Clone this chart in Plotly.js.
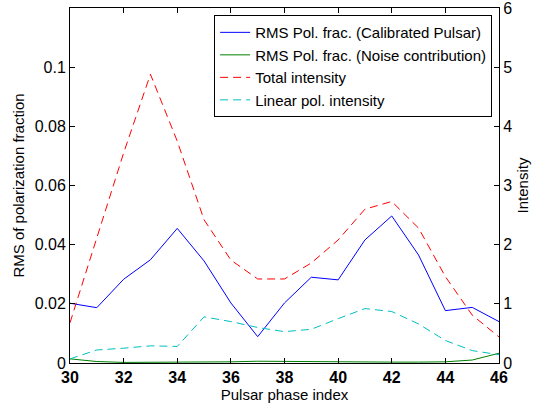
<!DOCTYPE html>
<html>
<head>
<meta charset="utf-8">
<script src="https://cdn.plot.ly/plotly-3.0.1.min.js"></script>
<style>html,body{margin:0;padding:0;background:#fff;}#plot{width:535px;height:406px;}</style>
</head>
<body>
<div id="plot"></div>
<script>
var phase = [30,31,32,33,34,35,36,37,38,39,40,41,42,43,44,45,46];
var rmsCal = [0.0202,0.0187,0.0283,0.0349,0.0455,0.0345,0.0203,0.0089,0.0203,0.0290,0.0281,0.0416,0.0497,0.0365,0.0177,0.0188,0.0140];
var rmsNoise = [0.0014,0.0005,0.0002,0.0002,0.0002,0.0003,0.0004,0.0006,0.0005,0.0004,0.0003,0.0003,0.0003,0.0003,0.0004,0.0010,0.0033];
var totalI = [0.68,2.10,3.55,4.88,3.75,2.42,1.74,1.42,1.42,1.69,2.08,2.60,2.73,2.28,1.46,0.81,0.44];
var linI = [0.07,0.22,0.25,0.29,0.28,0.78,0.70,0.60,0.53,0.57,0.75,0.92,0.87,0.66,0.38,0.21,0.14];
var names = ["RMS Pol. frac. (Calibrated Pulsar)","RMS Pol. frac. (Noise contribution)","Total intensity","Linear pol. intensity"];
var xTicks = [30,32,34,36,38,40,42,44,46];
var yTicks = [0,0.02,0.04,0.06,0.08,0.1];
var y2Ticks = [0,1,2,3,4,5,6];

var traces = [
  {x: phase, y: rmsCal, name: names[0], mode: "lines", line: {color: "#0000ff", width: 1}, yaxis: "y"},
  {x: phase, y: rmsNoise, name: names[1], mode: "lines", line: {color: "#008000", width: 1}, yaxis: "y"},
  {x: phase, y: totalI, name: names[2], mode: "lines", line: {color: "#ff0000", width: 1, dash: "8px,5px"}, yaxis: "y2"},
  {x: phase, y: linI, name: names[3], mode: "lines", line: {color: "#00bfbf", width: 1, dash: "8px,5px"}, yaxis: "y2"}
];

var fam = "Liberation Sans, Arial, sans-serif";
var layout = {
  width: 535, height: 406,
  margin: {l: 70, r: 36, t: 8, b: 43},
  paper_bgcolor: "#fff", plot_bgcolor: "#fff",
  font: {family: fam, size: 15, color: "#000"},
  showlegend: true,
  legend: {x: 0.984, y: 0.98, xanchor: "right", yanchor: "top", bgcolor: "#fff", bordercolor: "#000", borderwidth: 1, font: {family: fam, size: 15}, tracegroupgap: 0},
  xaxis: {range: [30, 46], tickvals: xTicks, ticktext: xTicks.map(function(v){return "<b>" + v + "</b>";}),
    ticks: "inside", ticklen: 5, tickcolor: "#000", showline: true, linecolor: "#000", linewidth: 1, mirror: "ticks", showgrid: false, zeroline: false,
    tickfont: {family: fam, size: 16}, title: {text: "Pulsar phase index", font: {family: fam, size: 15}, standoff: 2}},
  yaxis: {range: [0, 0.12], tickvals: yTicks, ticktext: yTicks.map(String),
    ticks: "inside", ticklen: 5, tickcolor: "#000", showline: true, linecolor: "#000", linewidth: 1, showgrid: false, zeroline: false,
    tickfont: {family: fam, size: 16}, title: {text: "RMS of polarization fraction", font: {family: fam, size: 15}, standoff: 6}},
  yaxis2: {range: [0, 6.0001], overlaying: "y", side: "right", tickvals: y2Ticks, ticktext: y2Ticks.map(String), ticklabeloverflow: "allow",
    ticks: "inside", ticklen: 5, tickcolor: "#000", showline: true, linecolor: "#000", linewidth: 1, showgrid: false, zeroline: false,
    tickfont: {family: fam, size: 16}, title: {text: "Intensity", font: {family: fam, size: 15}, standoff: 6}}
};
Plotly.newPlot("plot", traces, layout, {displayModeBar: false, staticPlot: true});
</script>
</body>
</html>
